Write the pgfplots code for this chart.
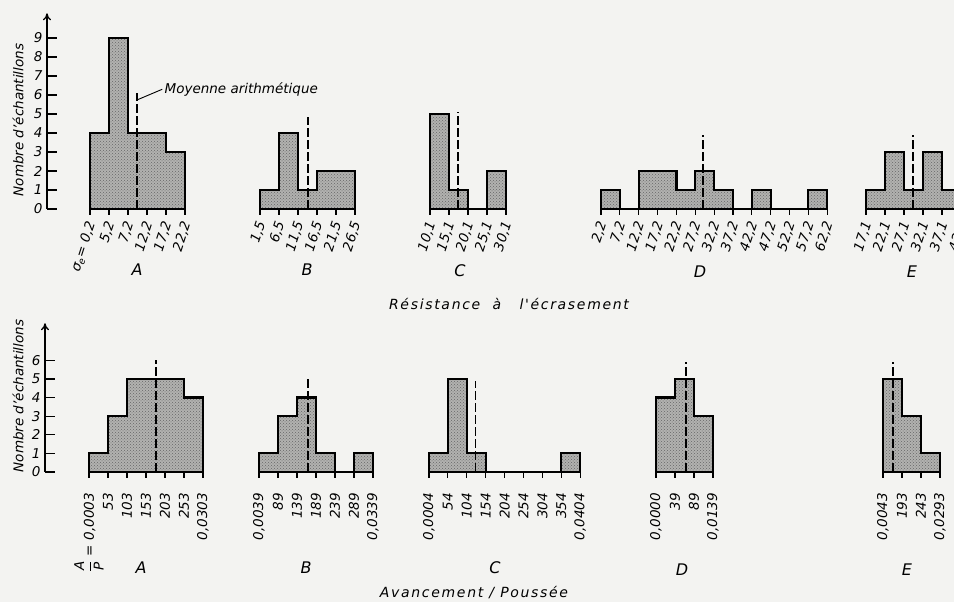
\documentclass[border=0pt]{standalone}
\usepackage{fontspec}
\setmainfont{DejaVu Sans}
\newfontfamily\spaced[LetterSpace=12.0]{DejaVu Sans}
\usepackage{pgfplots}
\pgfplotsset{compat=1.18}
\usetikzlibrary{arrows.meta,patterns}
\definecolor{paper}{RGB}{243,243,241}
\definecolor{barfill}{RGB}{178,178,176}
\newcommand{\lab}{\fontsize{13.5}{15}\selectfont\itshape}
\newcommand{\biglab}{\fontsize{16}{18}\selectfont\itshape}
\newcommand{\ttl}{\fontsize{14}{16}\selectfont\spaced\itshape}
\pgfplotsset{
  histbase/.style={
    x=19pt, y=19pt,
    xmin=0, ymin=0, ymax=6,
    anchor=south west,
    clip=false,
    axis x line=bottom, axis y line=none,
    x axis line style={-, line width=1.3pt},
    xtick align=outside,
    major tick length=6pt,
    tick style={line width=1.1pt, black},
    xtick={0,...,20},
  },
  hist/.style={histbase,
    xticklabel style={yshift=-6pt, xshift=2pt, rotate=72, anchor=east, inner sep=1pt, font=\lab}},
  histb/.style={histbase, y=18.6pt,
    xticklabel style={yshift=-14pt, rotate=90, anchor=east, inner sep=1pt, font=\lab}},
  histfill/.style={const plot, draw=black, line width=2.2pt, fill=barfill,
    postaction={pattern=crosshatch dots, pattern color=black!60}},
  meanline/.style={black, line width=1.4pt, dash pattern=on 9pt off 3pt},
  yax/.style={
    anchor=south west, x=10pt, xmin=0, xmax=1, ymin=0,
    axis x line=none, axis y line=left,
    y axis line style={-{To[length=7pt,width=8pt]}, line width=1.3pt},
    ytick align=inside, major tick length=10pt,
    tick style={line width=1.1pt, black},
    yticklabel style={font=\lab, xshift=-1pt},
  },
}
\begin{document}
\begin{tikzpicture}[x=1pt,y=1pt]
\path[use as bounding box, fill=paper] (0,0) rectangle (954,602);
\clip (0,0) rectangle (954,602);

% ---------- Top row: Résistance à l'écrasement ----------
\begin{axis}[yax, at={(47pt,393pt)}, y=19pt, ymax=10.3,
  ytick={0,...,9}, yticklabels={0,1,2,3,4,5,6,7,8,9}]
\end{axis}

\begin{axis}[hist, at={(90pt,393pt)}, xmax=5,
  xticklabels={{σ\textsubscript{e}= 0,2},{5,2},{7,2},{12,2},{17,2},{22,2}}]
\addplot[histfill] coordinates {(0,4) (1,9) (2,4) (3,4) (4,3) (5,3)} \closedcycle;
\addplot[meanline] coordinates {(2.47,0) (2.47,6.1)};
\draw[line width=0.9pt] (axis cs:2.5,5.75) -- (axis cs:3.8,6.3)
  node[right, inner sep=2pt, font=\lab] {Moyenne arithmétique};
\end{axis}

\begin{axis}[hist, at={(260pt,393pt)}, xmax=5,
  xticklabels={{1,5},{6,5},{11,5},{16,5},{21,5},{26,5}}]
\addplot[histfill] coordinates {(0,1) (1,4) (2,1) (3,2) (4,2) (5,2)} \closedcycle;
\addplot[meanline] coordinates {(2.53,0) (2.53,4.85)};
\end{axis}

\begin{axis}[hist, at={(430pt,393pt)}, xmax=4,
  xticklabels={{10,1},{15,1},{20,1},{25,1},{30,1}}]
\addplot[histfill] coordinates {(0,5) (1,1) (2,0) (3,2) (4,2)} \closedcycle;
\addplot[meanline] coordinates {(1.47,0) (1.47,5.1)};
\end{axis}

\begin{axis}[hist, at={(601pt,393pt)}, x=18.85pt, xmax=12,
  xticklabels={{2,2},{7,2},{12,2},{17,2},{22,2},{27,2},{32,2},{37,2},{42,2},{47,2},{52,2},{57,2},{62,2}}]
\addplot[histfill] coordinates {(0,1) (1,0) (2,2) (3,2) (4,1) (5,2) (6,1) (7,0) (8,1) (9,0) (10,0) (11,1) (12,1)} \closedcycle;
\addplot[meanline] coordinates {(5.42,0) (5.42,3.9)};
\end{axis}

\begin{axis}[hist, at={(866pt,393pt)}, xmax=5,
  xticklabels={{17,1},{22,1},{27,1},{32,1},{37,1},{42,1}}]
\addplot[histfill] coordinates {(0,1) (1,3) (2,1) (3,3) (4,1) (5,1)} \closedcycle;
\addplot[meanline] coordinates {(2.47,0) (2.47,3.9)};
\end{axis}

\node[font=\biglab] at (137,332) {A};
\node[font=\biglab] at (307,332) {B};
\node[font=\biglab] at (460,331) {C};
\node[font=\biglab] at (700,330) {D};
\node[font=\biglab] at (912,330) {E};
\node[font=\ttl] at (509,298) {Résistance\ \ à\ \ \ l'écrasement};
\node[font=\lab, rotate=90] at (18,482) {Nombre d'échantillons};

% ---------- Bottom row: Avancement / Poussée ----------
\begin{axis}[yax, at={(45pt,130pt)}, y=18.6pt, ymax=8.0,
  ytick={0,...,6}, yticklabels={0,1,2,3,4,5,6}]
\end{axis}

\begin{axis}[histb, at={(89pt,130pt)}, xmax=6,
  xticklabels={{$\displaystyle\frac{\textit{A}}{\textit{P}}$ = 0,0003},{53},{103},{153},{203},{253},{0,0303}}]
\addplot[histfill] coordinates {(0,1) (1,3) (2,5) (3,5) (4,5) (5,4) (6,4)} \closedcycle;
\addplot[meanline] coordinates {(3.53,0) (3.53,6.0)};
\end{axis}

\begin{axis}[histb, at={(259pt,130pt)}, xmax=6,
  xticklabels={{0,0039},{89},{139},{189},{239},{289},{0,0339}}]
\addplot[histfill] coordinates {(0,1) (1,3) (2,4) (3,1) (4,0) (5,1) (6,1)} \closedcycle;
\addplot[meanline] coordinates {(2.58,0) (2.58,5.0)};
\end{axis}

\begin{axis}[histb, at={(429pt,130pt)}, x=18.9pt, xmax=8,
  xticklabels={{0,0004},{54},{104},{154},{204},{254},{304},{354},{0,0404}}]
\addplot[histfill] coordinates {(0,1) (1,5) (2,1) (3,0) (4,0) (5,0) (6,0) (7,1) (8,1)} \closedcycle;
\addplot[meanline] coordinates {(2.47,0) (2.47,4.9)};
\end{axis}

\begin{axis}[histb, at={(656pt,130pt)}, xmax=3,
  xticklabels={{0,0000},{39},{89},{0,0139}}]
\addplot[histfill] coordinates {(0,4) (1,5) (2,3) (3,3)} \closedcycle;
\addplot[meanline] coordinates {(1.58,0) (1.58,5.9)};
\end{axis}

\begin{axis}[histb, at={(883pt,130pt)}, xmax=3,
  xticklabels={{0,0043},{193},{243},{0,0293}}]
\addplot[histfill] coordinates {(0,5) (1,3) (2,1) (3,1)} \closedcycle;
\addplot[meanline] coordinates {(0.53,0) (0.53,5.9)};
\end{axis}

\node[font=\biglab] at (141,34) {A};
\node[font=\biglab] at (306,34) {B};
\node[font=\biglab] at (495,34) {C};
\node[font=\biglab] at (682,32) {D};
\node[font=\biglab] at (907,32) {E};
\node[font=\ttl] at (474,9) {Avancement / Poussée};
\node[font=\lab, rotate=90] at (18,206) {Nombre d'échantillons};
\end{tikzpicture}
\end{document}
